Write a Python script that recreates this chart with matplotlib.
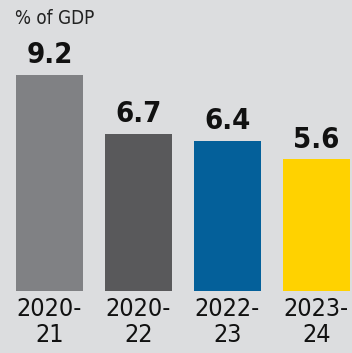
import matplotlib
matplotlib.use("Agg")
import matplotlib.pyplot as plt

years = ["2020-\n21", "2020-\n22", "2022-\n23", "2023-\n24"]
values = [9.2, 6.7, 6.4, 5.6]
colors = ["#808184", "#59595b", "#04609a", "#ffd200"]
unit_label = "% of GDP"

bg = "#dcdddf"
fig = plt.figure(figsize=(3.52, 3.53), dpi=100, facecolor=bg)
# axes spanning the bar area: baseline at y=291px, 0..10.5 units
ax = fig.add_axes([0.0, (353 - 291) / 353, 1.0, 291 / 353 * 0.98])
ax.set_facecolor(bg)
x = [0, 1, 2, 3]
ax.bar(x, values, width=0.745, color=colors)
ax.set_xlim(-0.555, 3.4)
ax.set_ylim(0, 291 * 0.98 / 23.5)
for xi, v in zip(x, values):
    ax.annotate(f"{v}", (xi, v), xytext=(0, 4), textcoords="offset points",
                ha="center", va="bottom", fontsize=21, fontweight="bold",
                fontstretch="condensed", color="#111111")
for s in ax.spines.values():
    s.set_visible(False)
ax.set_yticks([])
ax.set_xticks(x)
ax.set_xticklabels(years, fontsize=18, linespacing=1.12, color="#111111",
                   fontstretch="condensed")
ax.tick_params(axis="x", length=0, pad=4)

fig.text(15 / 352, 1 - 18 / 353, unit_label, fontsize=13.5, va="center",
         ha="left", color="#222222", fontstretch="condensed")
fig.savefig("out.png", dpi=100, facecolor=bg)
